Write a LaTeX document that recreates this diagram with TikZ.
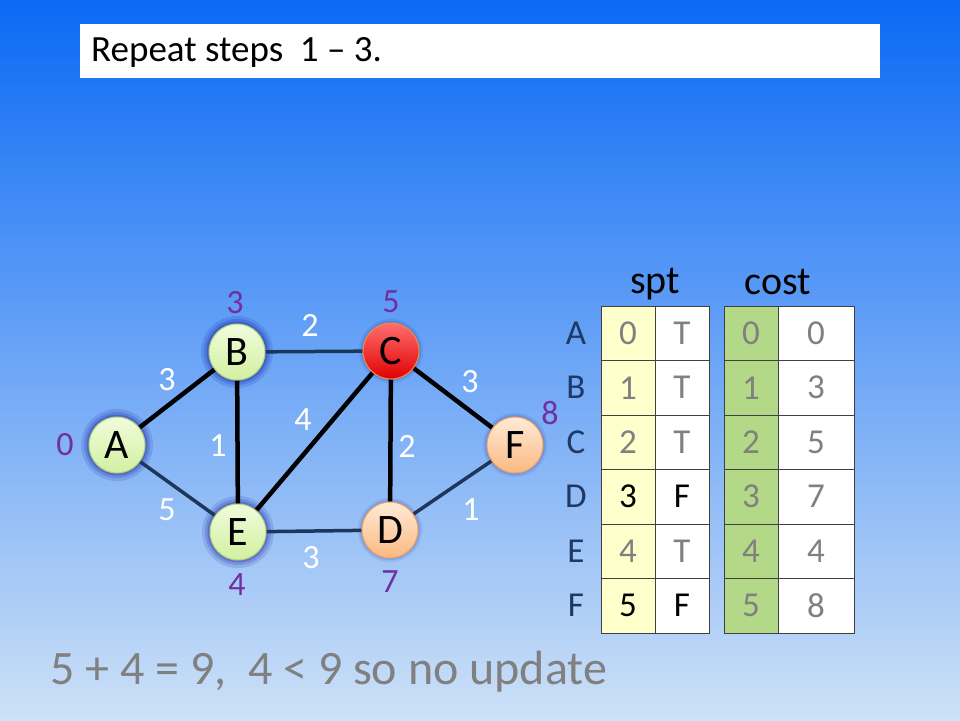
\documentclass[tikz,border=0pt]{standalone}
\usepackage{fontspec}
\setmainfont{Carlito}
\definecolor{navy}{RGB}{31,56,100}
\definecolor{edgenavy}{RGB}{28,55,90}
\definecolor{purp}{RGB}{112,48,160}
\definecolor{gtxt}{RGB}{128,128,128}
\definecolor{yel}{RGB}{255,255,204}
\definecolor{grn}{RGB}{179,216,136}
\definecolor{grid}{RGB}{64,64,64}
\pgfdeclarelayer{bg}
\pgfdeclarelayer{edges}
\pgfsetlayers{bg,edges,main}
\tikzset{
  vtx/.style={circle, minimum size=56pt, inner sep=0pt, line width=1pt, font=\fontsize{42}{42}\selectfont},
  vgreen/.style={vtx, draw={rgb,255:red,180;green,210;blue,120}, top color={rgb,255:red,240;green,252;blue,220}, bottom color={rgb,255:red,210;green,240;blue,160}},
  vpeach/.style={vtx, draw={rgb,255:red,240;green,160;blue,90}, top color={rgb,255:red,255;green,235;blue,215}, bottom color={rgb,255:red,250;green,185;blue,130}},
  vred/.style={vtx, draw={rgb,255:red,240;green,140;blue,60}, top color={rgb,255:red,255;green,110;blue,110}, bottom color={rgb,255:red,225;green,0;blue,0}},
  ebold/.style={line width=4.5pt, black},
  ethin/.style={line width=3.5pt, edgenavy},
  wlab/.style={white, font=\fontsize{34}{34}\selectfont},
  dlab/.style={purp, font=\fontsize{34}{34}\selectfont},
  cell/.style={draw=grid, line width=0.8pt, minimum width=54pt, minimum height=54.5pt, inner sep=0pt, font=\fontsize{35}{35}\selectfont},
  rlab/.style={navy, font=\fontsize{35}{35}\selectfont},
  glow/.style={fill=blue!55!black, opacity=#1},
}
\begin{document}
\begin{tikzpicture}[x=1pt,y=-1pt]
\useasboundingbox (0,0) rectangle (960,720);
\begin{pgfonlayer}{bg}
\shade[top color={rgb,255:red,10;green,105;blue,245}, middle color={rgb,255:red,85;green,165;blue,250}, bottom color={rgb,255:red,205;green,225;blue,247}] (0,0) rectangle (960,720);
\end{pgfonlayer}
% title
\node[fill=white, minimum width=800pt, minimum height=54pt, inner sep=0pt, anchor=north west] (title) at (80,24) {};
\node[anchor=west, font=\fontsize{37}{37}\selectfont, inner sep=0pt] (ttext) at (91,52) {Repeat steps\ \ 1 -- 3.};
% nodes
\node[vgreen] (A) at (117,445) {A};
\node[vgreen] (B) at (237,352) {B};
\node[vred] (C) at (391,351) {C};
\node[vpeach] (D) at (390,530) {D};
\node[vgreen] (E) at (238,532) {E};
\node[vpeach] (F) at (515,445) {F};
\begin{pgfonlayer}{edges}
\foreach \n in {A,B,E}{
  \fill[glow=0.12] (\n.center) circle (36pt);
  \fill[glow=0.15] (\n.center) circle (33pt);
  \fill[glow=0.2] (\n.center) circle (30.5pt);}
\foreach \n in {C,D,F}{
  \fill[glow=0.08] (\n.center) circle (32pt);
  \fill[glow=0.1] (\n.center) circle (30pt);}
\draw[ebold] (A) -- (B);
\draw[ethin] (A) -- (E);
\draw[ethin] (B) -- (C);
\draw[ebold] (B) -- (E);
\draw[ebold] (E) -- (C);
\draw[ebold] (C) -- (D);
\draw[ebold] (C) -- (F);
\draw[ethin] (E) -- (D);
\draw[ethin] (D) -- (F);
\end{pgfonlayer}
% edge weights
\node[wlab] (wab) at (167,380) {3};
\node[wlab] (wae) at (167,510) {5};
\node[wlab] (wbe) at (218,446) {1};
\node[wlab] (wbc) at (310,325) {2};
\node[wlab] (wec) at (303,420) {4};
\node[wlab] (wcd) at (407,446) {2};
\node[wlab] (wcf) at (470,382) {3};
\node[wlab] (wed) at (311,558) {3};
\node[wlab] (wdf) at (471,510) {1};
% distances
\node[dlab] (dA) at (65,445) {0};
\node[dlab] (dB) at (235,303) {3};
\node[dlab] (dC) at (391,302) {5};
\node[dlab] (dF) at (550,413) {8};
\node[dlab] (dE) at (237,585) {4};
\node[dlab] (dD) at (390,582) {7};
% tables
\node[font=\fontsize{40}{40}\selectfont] (hspt) at (655,284) {spt};
\node[font=\fontsize{40}{40}\selectfont] (hcost) at (778,282) {cost};
\foreach \r/\l/\a/\b/\c/\ca/\cb [count=\i] in {
  A/0/T/0/0/gtxt/gtxt,
  B/1/T/1/3/gtxt/gtxt,
  C/2/T/2/5/gtxt/gtxt,
  D/3/F/3/7/black/black,
  E/4/T/4/4/gtxt/gtxt,
  F/5/F/5/8/black/black}{
  \pgfmathsetmacro{\yy}{306+54.5*(\i-1)+27.25}
  \node[rlab] (r\r) at (576,\yy) {\r};
  \node[cell, fill=yel, text=\ca] (s1\r) at (628,\yy) {\l};
  \node[cell, fill=white, text=\cb] (s2\r) at (682,\yy) {\a};
  \node[cell, fill=grn, text=gtxt] (c1\r) at (751,\yy) {\b};
  \node[cell, fill=white, text=gtxt, minimum width=76pt] (c2\r) at (816,\yy) {\c};
}
% bottom text
\node[anchor=west, gtxt, font=\fontsize{48}{48}\selectfont, inner sep=0pt] (bottom) at (50,672) {5 + 4 = 9,\ \ 4 < 9 so no update};
\end{tikzpicture}
\end{document}
